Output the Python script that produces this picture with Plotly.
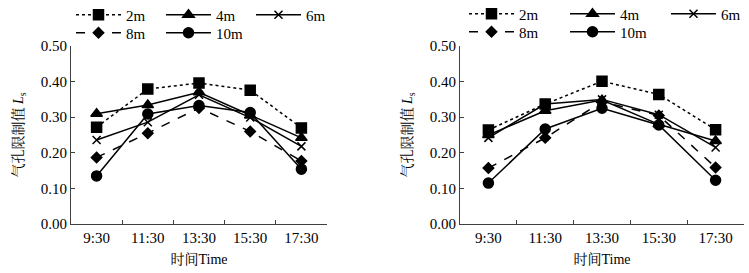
import plotly.graph_objects as go

times = ["9:30", "11:30", "13:30", "15:30", "17:30"]
series_names = ["2m", "4m", "6m", "8m", "10m"]

left_2m = [0.272, 0.379, 0.396, 0.376, 0.270]
left_4m = [0.310, 0.334, 0.370, 0.305, 0.242]
left_6m = [0.236, 0.286, 0.363, 0.299, 0.218]
left_8m = [0.187, 0.255, 0.326, 0.260, 0.177]
left_10m = [0.135, 0.309, 0.333, 0.313, 0.154]

right_2m = [0.264, 0.337, 0.401, 0.364, 0.265]
right_4m = [0.250, 0.318, 0.348, 0.280, 0.233]
right_6m = [0.242, 0.337, 0.350, 0.307, 0.215]
right_8m = [0.157, 0.242, 0.343, 0.305, 0.159]
right_10m = [0.115, 0.267, 0.325, 0.278, 0.123]

y_title = "气孔限制值 <i>L</i><sub>s</sub>"
x_title = "时间Time"

FONT = "Liberation Serif, Times New Roman, Noto Serif CJK SC, Noto Sans CJK SC, serif"

styles = {
    "2m": dict(dash="dot", symbol="square", size=10),
    "4m": dict(dash="solid", symbol="triangle-up", size=10),
    "6m": dict(dash="solid", symbol="x-thin-open", size=8),
    "8m": dict(dash="dash", symbol="diamond", size=8),
    "10m": dict(dash="solid", symbol="circle", size=10),
}

fig = go.Figure()

panels = [
    ("x", "y", [left_2m, left_4m, left_6m, left_8m, left_10m], ["legend", "legend2"]),
    ("x2", "y2", [right_2m, right_4m, right_6m, right_8m, right_10m], ["legend3", "legend4"]),
]

for xa, ya, data, legs in panels:
    for i, (name, vals) in enumerate(zip(series_names, data)):
        st = styles[name]
        fig.add_trace(go.Scatter(
            x=times, y=vals, name=name, xaxis=xa, yaxis=ya,
            mode="lines+markers",
            line=dict(color="black", width=1.5, dash=st["dash"]),
            marker=dict(symbol=st["symbol"], size=st["size"], color="black",
                        line=dict(color="black", width=1.5)),
            legend=legs[0] if i < 3 else legs[1],
        ))

W, H = 749, 273
ydom = [1 - 224 / H, 1 - 46 / H]

axis_common = dict(
    showline=True, linecolor="#404040", linewidth=1,
    ticks="inside", ticklen=4, tickcolor="#404040", tickwidth=1,
    showgrid=False, zeroline=False, automargin=False,
    tickfont=dict(family=FONT, size=15, color="black"),
)
title_font = dict(family=FONT, size=14, color="black")

fig.update_layout(
    width=W, height=H,
    margin=dict(l=0, r=0, t=0, b=0, autoexpand=False),
    paper_bgcolor="white", plot_bgcolor="white",
    font=dict(family=FONT, size=15, color="black"),
    xaxis=dict(domain=[71 / W, 327 / W], type="category", range=[-0.5, 4.5],
               tickson="boundaries", anchor="y",
               title=dict(text=x_title, standoff=9, font=title_font),
               **axis_common),
    yaxis=dict(domain=ydom, range=[0, 0.5], dtick=0.1, tickformat=".2f", anchor="x",
               title=dict(text=y_title, standoff=13, font=title_font),
               **axis_common),
    xaxis2=dict(domain=[460 / W, 744 / W], type="category", range=[-0.5, 4.5],
                tickson="boundaries", anchor="y2",
                title=dict(text=x_title, standoff=9, font=title_font),
                **axis_common),
    yaxis2=dict(domain=ydom, range=[0, 0.5], dtick=0.1, tickformat=".2f", anchor="x2",
                title=dict(text=y_title, standoff=13, font=title_font),
                **axis_common),
)

def leg(xpx, ypx, ew):
    return dict(orientation="h", xref="container", yref="container",
                x=xpx / W, y=1 - ypx / H, xanchor="left", yanchor="middle",
                entrywidth=ew, entrywidthmode="pixels", itemwidth=45,
                bgcolor="rgba(0,0,0,0)", borderwidth=0,
                font=dict(family=FONT, size=15, color="black"),
                tracegroupgap=0, itemsizing="trace")

fig.update_layout(
    legend=leg(71, 15, 30),
    legend2=leg(71, 33, 30),
    legend3=leg(464, 14, 41),
    legend4=leg(464, 32, 41),
)

fig.write_html("out.html", config={"displayModeBar": False},
               post_script="document.body.style.margin='0';")
